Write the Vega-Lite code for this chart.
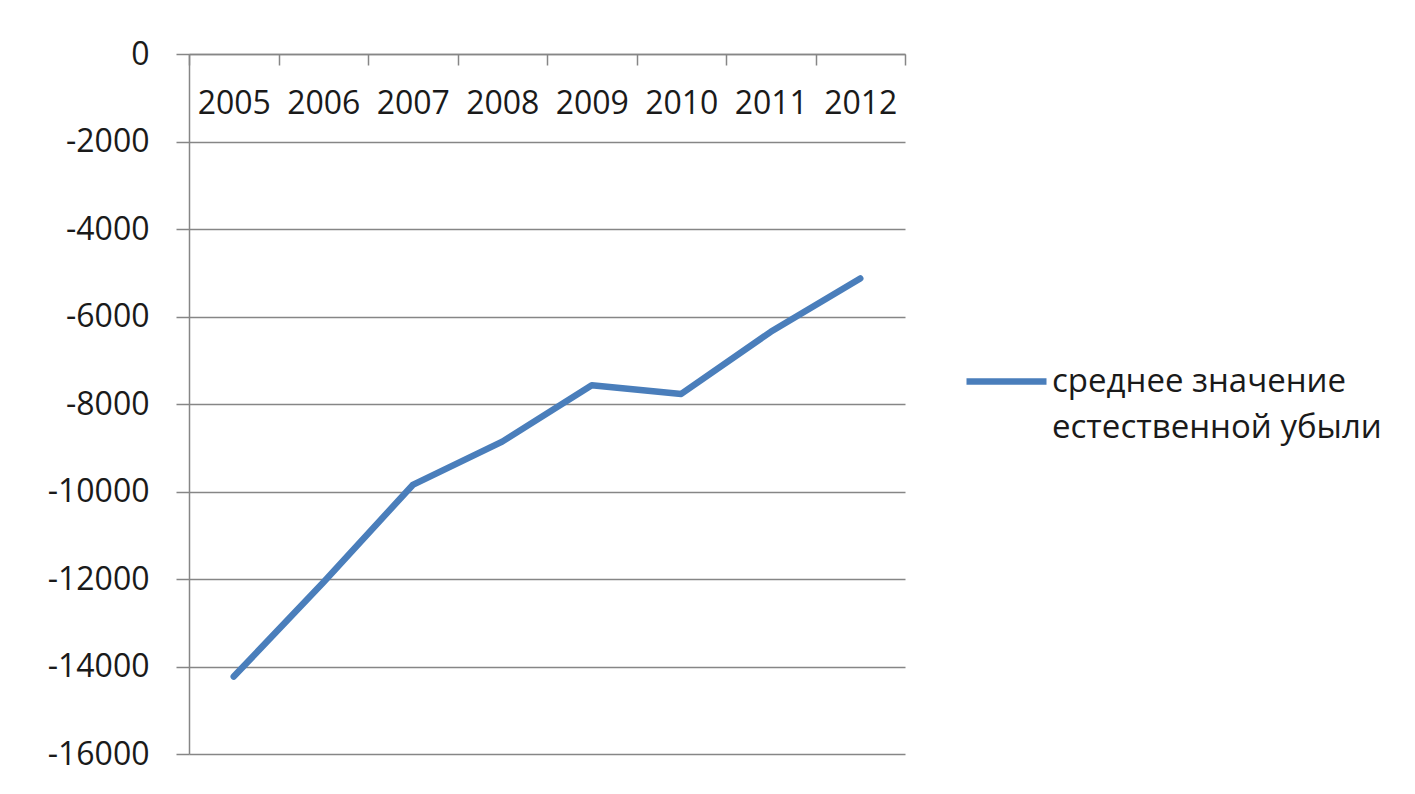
{
  "$schema": "https://vega.github.io/schema/vega-lite/v6.json",
  "width": 716,
  "height": 700,
  "autosize": {"type": "none"},
  "padding": {"left": 189, "top": 54, "right": 510, "bottom": 40},
  "background": "white",
  "config": {"view": {"stroke": null}, "font": "Open Sans"},
  "data": {
    "values": [
      {"year": "2005", "value": -14230, "series": "среднее значение естественной убыли"},
      {"year": "2006", "value": -12080, "series": "среднее значение естественной убыли"},
      {"year": "2007", "value": -9850, "series": "среднее значение естественной убыли"},
      {"year": "2008", "value": -8860, "series": "среднее значение естественной убыли"},
      {"year": "2009", "value": -7570, "series": "среднее значение естественной убыли"},
      {"year": "2010", "value": -7770, "series": "среднее значение естественной убыли"},
      {"year": "2011", "value": -6350, "series": "среднее значение естественной убыли"},
      {"year": "2012", "value": -5130, "series": "среднее значение естественной убыли"}
    ]
  },
  "mark": {"type": "line", "strokeWidth": 6.5, "strokeCap": "round", "strokeJoin": "round"},
  "encoding": {
    "x": {
      "field": "year",
      "type": "ordinal",
      "bandPosition": 0.5,
      "scale": {"type": "band", "paddingInner": 0, "paddingOuter": 0},
      "axis": {
        "orient": "bottom",
        "offset": -700,
        "title": null,
        "labelAngle": 0,
        "tickBand": "extent",
        "tickSize": 11,
        "tickWidth": 1.5,
        "tickColor": "#868686",
        "domainColor": "#868686",
        "domainWidth": 1.5,
        "labelFontSize": 32,
        "labelColor": "#1a1a1a",
        "labelPadding": 23,
        "grid": false
      }
    },
    "y": {
      "field": "value",
      "type": "quantitative",
      "scale": {"domain": [-16000, 0], "nice": false, "zero": false},
      "axis": {
        "title": null,
        "values": [-16000, -14000, -12000, -10000, -8000, -6000, -4000, -2000, 0],
        "labelExpr": "'' + datum.value",
        "grid": true,
        "gridColor": "#868686",
        "gridWidth": 1.5,
        "domainColor": "#868686",
        "domainWidth": 1.5,
        "tickColor": "#868686",
        "tickWidth": 1.5,
        "tickSize": 13,
        "labelFontSize": 32,
        "labelPadding": 27,
        "labelColor": "#1a1a1a"
      }
    },
    "color": {
      "field": "series",
      "type": "nominal",
      "scale": {"range": ["#4A7EBB"]},
      "legend": {
        "orient": "none",
        "legendX": 774,
        "legendY": 284,
        "title": null,
        "padding": 0,
        "symbolType": "stroke",
        "symbolSize": 6400,
        "symbolStrokeWidth": 6.5,
        "labelFontSize": 33,
        "labelColor": "#1a1a1a",
        "labelOffset": 2,
        "labelLimit": 500,
        "labelExpr": "[slice(datum.label, 0, 16), slice(datum.label, 17)]",
        "encode": {"labels": {"update": {"lineHeight": {"value": 46}}}}
      }
    }
  }
}
